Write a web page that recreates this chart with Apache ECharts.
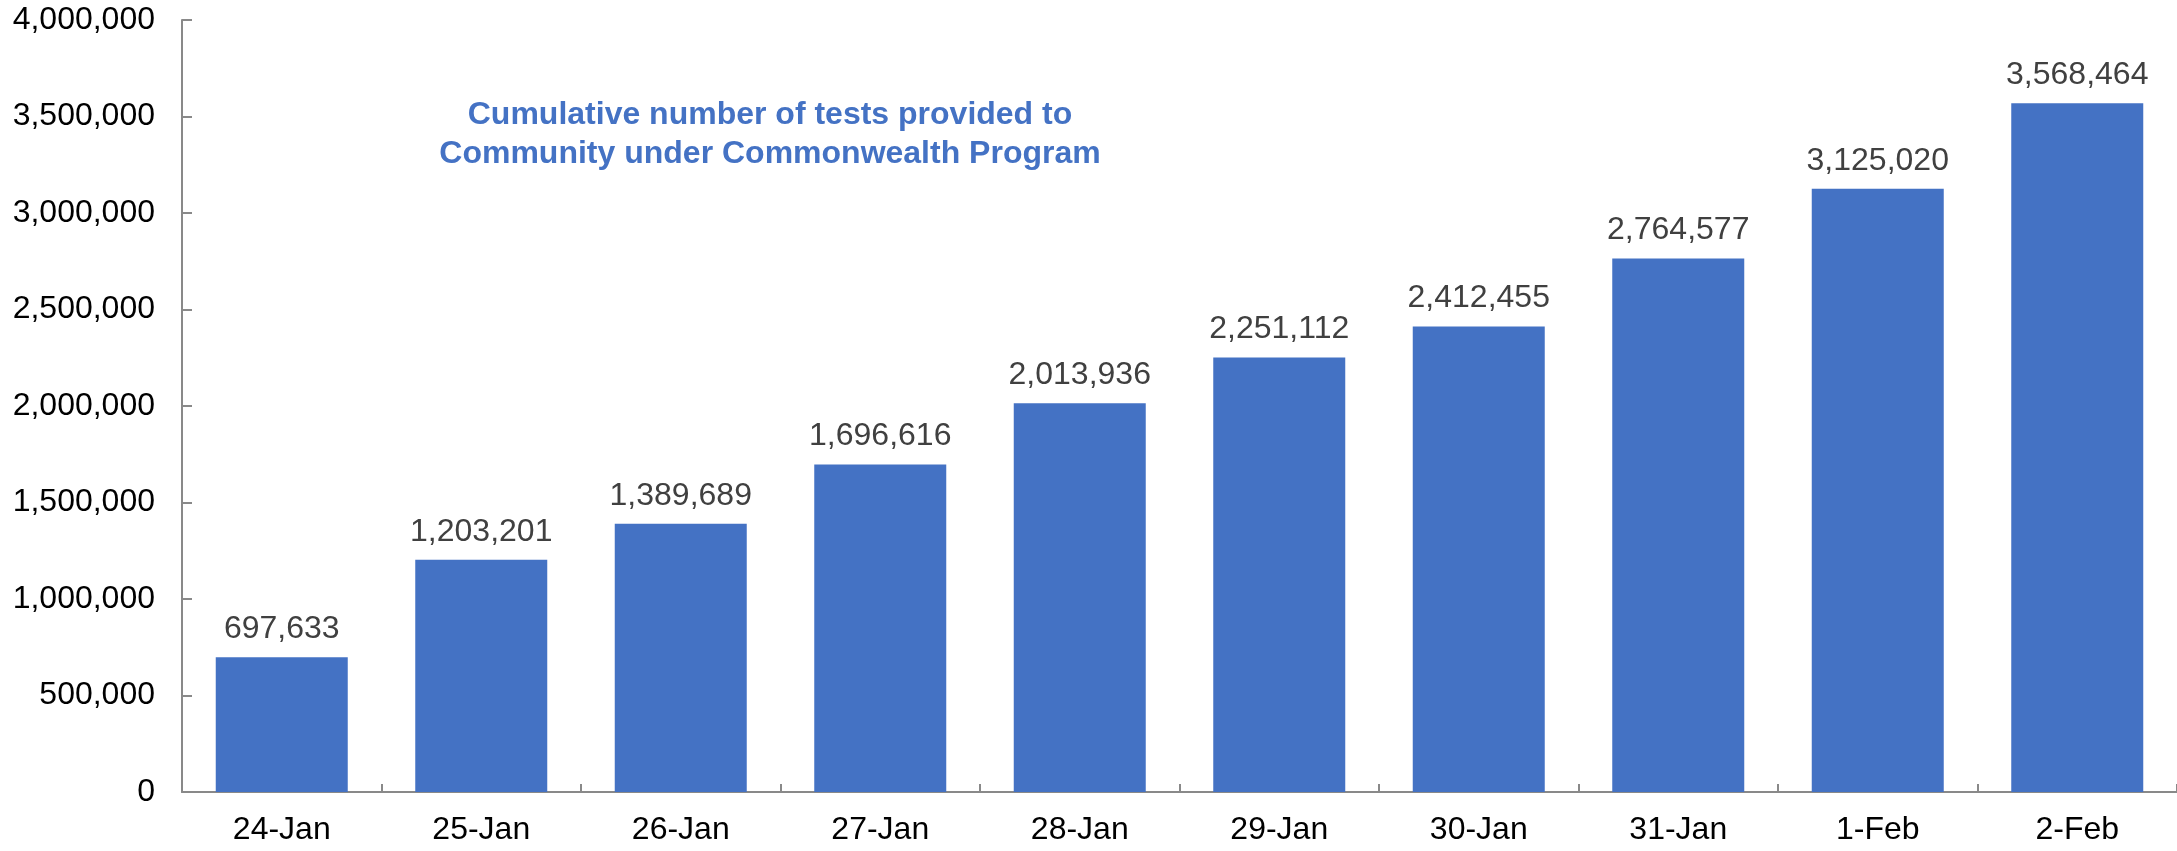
<!DOCTYPE html>
<html>
<head>
<meta charset="utf-8">
<script src="https://cdn.jsdelivr.net/npm/echarts@6/dist/echarts.min.js"></script>
<style>
  html, body { margin: 0; padding: 0; background: #fff; }
  #chart { width: 2177px; height: 851px; }
</style>
</head>
<body>
<div id="chart"></div>
<script>
const dates = ['24-Jan', '25-Jan', '26-Jan', '27-Jan', '28-Jan', '29-Jan', '30-Jan', '31-Jan', '1-Feb', '2-Feb']
const tests = [697633, 1203201, 1389689, 1696616, 2013936, 2251112, 2412455, 2764577, 3125020, 3568464]
const titleLines = ['Cumulative number of tests provided to', 'Community under Commonwealth Program']

const fmt = v => Number(v).toLocaleString('en-US')

const chart = echarts.init(document.getElementById('chart'))

const option = {
  animation: false,
  textStyle: { fontFamily: 'Liberation Sans, Arial, sans-serif' },
  grid: { left: 182, right: 0, top: 20, bottom: 59 },
  graphic: [{
    type: 'text',
    x: 770,
    y: 96,
    style: {
      text: titleLines.join('\n'),
      textAlign: 'center',
      textVerticalAlign: 'top',
      font: 'bold 32px "Liberation Sans", Arial, sans-serif',
      lineHeight: 39,
      fill: '#4472C4'
    }
  }],
  xAxis: {
    type: 'category',
    data: dates,
    axisLine: { lineStyle: { color: '#898989', width: 2 } },
    axisTick: { show: true, inside: true, length: 8, lineStyle: { color: '#898989', width: 2 } },
    axisLabel: { color: '#000', fontSize: 32, margin: 22 }
  },
  yAxis: {
    type: 'value',
    min: 0,
    max: 4000000,
    interval: 500000,
    splitLine: { show: false },
    axisLine: { show: true, lineStyle: { color: '#898989', width: 2 } },
    axisTick: { show: true, inside: true, length: 10, lineStyle: { color: '#898989', width: 2 } },
    axisLabel: { color: '#000', fontSize: 32, margin: 27, formatter: v => fmt(v) }
  },
  series: [{
    type: 'bar',
    data: tests,
    barWidth: 132,
    itemStyle: { color: '#4472C4' },
    label: {
      show: true,
      position: 'top',
      distance: 12,
      color: '#404040',
      fontSize: 32,
      formatter: p => fmt(p.value)
    }
  }]
}

chart.setOption(option)
</script>
</body>
</html>
